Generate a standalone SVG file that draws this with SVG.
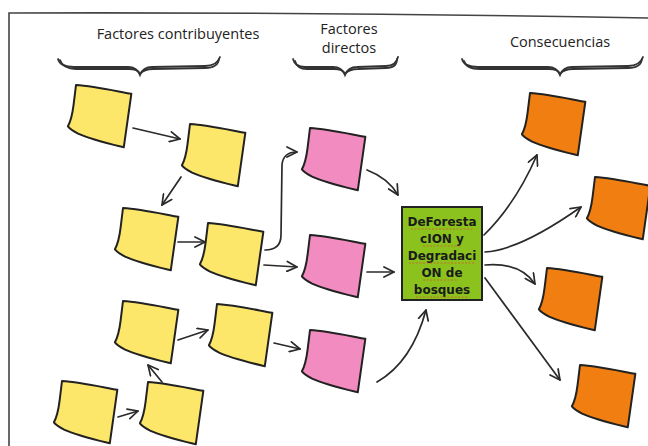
<svg xmlns="http://www.w3.org/2000/svg" xmlns:xlink="http://www.w3.org/1999/xlink" width="648" height="446" viewBox="0 0 648 446">
  <style>
    .note { stroke: #222; stroke-width: 2; stroke-linejoin: round; }
    .yellow { fill: #FDE76A; }
    .pink { fill: #F28CC0; }
    .orange { fill: #F07E10; }
    .head { font-family: "Open Sans", "Liberation Sans", sans-serif; font-size: 14.5px; fill: #222; text-anchor: middle; }
    .brace { fill: none; stroke: #333; stroke-width: 1.8; stroke-linecap: round; }
    .conn { fill: none; stroke: #2a2a2a; stroke-width: 1.7; stroke-linecap: round; }
    .core { font-family: "DejaVu Sans", sans-serif; font-weight: bold; font-size: 12px; fill: #1a1a1a; text-anchor: middle; }
    .squiggle { fill: none; stroke: #E2462A; stroke-width: 0.8; stroke-dasharray: 2 1.5; opacity: 0.8; }
  </style>
  <defs>
    <!-- sticky note with a curled lower-left corner -->
    <path id="note" d="M0,0 C18,-1 38,1 56,2 L55,56 C38,54 20,52 8,48 C3,46 -1,44 -3,42 C-1,37 0,30 0,20 Z"/>
    <marker id="arrow" viewBox="0 0 12 12" refX="11" refY="6" markerWidth="12" markerHeight="12" markerUnits="userSpaceOnUse" orient="auto">
      <path d="M1,1 L11,6 L1,11" fill="none" stroke="#2a2a2a" stroke-width="1.7" stroke-linecap="round" stroke-linejoin="round"/>
    </marker>
  </defs>

  <rect width="648" height="446" fill="#fff"/>

  <!-- frame -->
  <path d="M9,446 L9,13 Q320,12 648,18" fill="none" stroke="#444" stroke-width="1.6"/>

  <!-- column headings -->
  <g id="headings">
    <text class="head" x="178" y="39">Factores contribuyentes</text>
    <text class="head" x="349" y="34">Factores</text>
    <text class="head" x="349" y="53">directos</text>
    <text class="head" x="560" y="47">Consecuencias</text>
  </g>

  <!-- braces -->
  <g id="braces">
    <path class="brace" d="M58,59 Q60,67 74,67 L128,67 Q137,67 140,75 Q143,67 152,67 L205,66 Q217,66 220,57"/>
    <path class="brace" d="M60,60 Q63,69 76,69 L129,69 Q138,69 140,74 Q144,69 153,69 L205,68 Q218,68 219,59" stroke-width="1"/>
    <path class="brace" d="M293,59 Q295,67 305,67 L333,67 Q342,67 345,75 Q348,67 357,67 L386,66 Q396,66 398,57"/>
    <path class="brace" d="M295,61 Q297,69 307,69 L334,69 Q343,69 345,74 Q349,69 358,69 L386,68 Q397,68 397,59" stroke-width="1"/>
    <path class="brace" d="M462,59 Q464,67 478,67 L548,67 Q557,67 560,75 Q563,67 572,67 L628,66 Q640,66 643,57"/>
    <path class="brace" d="M464,61 Q466,69 480,69 L549,69 Q558,69 560,74 Q564,69 573,69 L628,68 Q641,68 642,59" stroke-width="1"/>
  </g>

  <!-- connectors -->
  <g id="connectors">
    <path class="conn" marker-end="url(#arrow)" d="M133,128 L180,139"/>
    <path class="conn" marker-end="url(#arrow)" d="M181,177 L162,205"/>
    <path class="conn" marker-end="url(#arrow)" d="M178,242 L205,242"/>
    <path class="conn" marker-end="url(#arrow)" d="M264,265 L297,267"/>
    <path class="conn" marker-end="url(#arrow)" d="M265,250 Q281,250 281,235 L282,165 Q283,152 297,152"/>
    <path class="conn" marker-end="url(#arrow)" d="M367,170 Q388,178 398,195"/>
    <path class="conn" marker-end="url(#arrow)" d="M367,272 L394,272"/>
    <path class="conn" marker-end="url(#arrow)" d="M377,382 Q412,362 426,310"/>
    <path class="conn" marker-end="url(#arrow)" d="M178,340 L208,330"/>
    <path class="conn" marker-end="url(#arrow)" d="M274,343 L300,349"/>
    <path class="conn" marker-end="url(#arrow)" d="M118,417 L138,411"/>
    <path class="conn" marker-end="url(#arrow)" d="M162,382 L148,365"/>
    <path class="conn" marker-end="url(#arrow)" d="M484,235 Q515,205 537,155"/>
    <path class="conn" marker-end="url(#arrow)" d="M485,252 Q520,250 581,207"/>
    <path class="conn" marker-end="url(#arrow)" d="M485,265 Q520,262 535,284"/>
    <path class="conn" marker-end="url(#arrow)" d="M485,278 L560,380"/>
  </g>

  <!-- contributing factors -->
  <g id="y1" transform="translate(76,85) rotate(7)"><use xlink:href="#note" class="note yellow"/></g>
  <g id="y2" transform="translate(190,124) rotate(7)"><use xlink:href="#note" class="note yellow"/></g>
  <g id="y3" transform="translate(123,208) rotate(7)"><use xlink:href="#note" class="note yellow"/></g>
  <g id="y4" transform="translate(208,223) rotate(7)"><use xlink:href="#note" class="note yellow"/></g>
  <g id="y5" transform="translate(123,301) rotate(7)"><use xlink:href="#note" class="note yellow"/></g>
  <g id="y6" transform="translate(217,304) rotate(7)"><use xlink:href="#note" class="note yellow"/></g>
  <g id="y7" transform="translate(62,381) rotate(7)"><use xlink:href="#note" class="note yellow"/></g>
  <g id="y8" transform="translate(148,382) rotate(7)"><use xlink:href="#note" class="note yellow"/></g>

  <!-- direct factors -->
  <g id="p1" transform="translate(310,128) rotate(7)"><use xlink:href="#note" class="note pink"/></g>
  <g id="p2" transform="translate(310,235) rotate(7)"><use xlink:href="#note" class="note pink"/></g>
  <g id="p3" transform="translate(310,330) rotate(7)"><use xlink:href="#note" class="note pink"/></g>

  <!-- central problem -->
  <g id="core">
    <rect x="402" y="207" width="80" height="93" fill="#8CC21E" stroke="#222" stroke-width="2"/>
    <text class="core" x="442" y="226">DeForesta</text>
    <text class="core" x="442" y="243">cION y</text>
    <text class="core" x="442" y="260">Degradaci</text>
    <text class="core" x="442" y="277">ON de</text>
    <text class="core" x="442" y="294">bosques</text>
    <path class="squiggle" d="M411,229 L474,229 M423,246 L461,246 M409,263 L476,263 M423,280 L458,280 M416,297 L469,297"/>
  </g>

  <!-- consequences -->
  <g id="o1" transform="translate(530,93) rotate(7)"><use xlink:href="#note" class="note orange"/></g>
  <g id="o2" transform="translate(595,177) rotate(7)"><use xlink:href="#note" class="note orange"/></g>
  <g id="o3" transform="translate(547,268) rotate(7)"><use xlink:href="#note" class="note orange"/></g>
  <g id="o4" transform="translate(580,365) rotate(7)"><use xlink:href="#note" class="note orange"/></g>
</svg>
